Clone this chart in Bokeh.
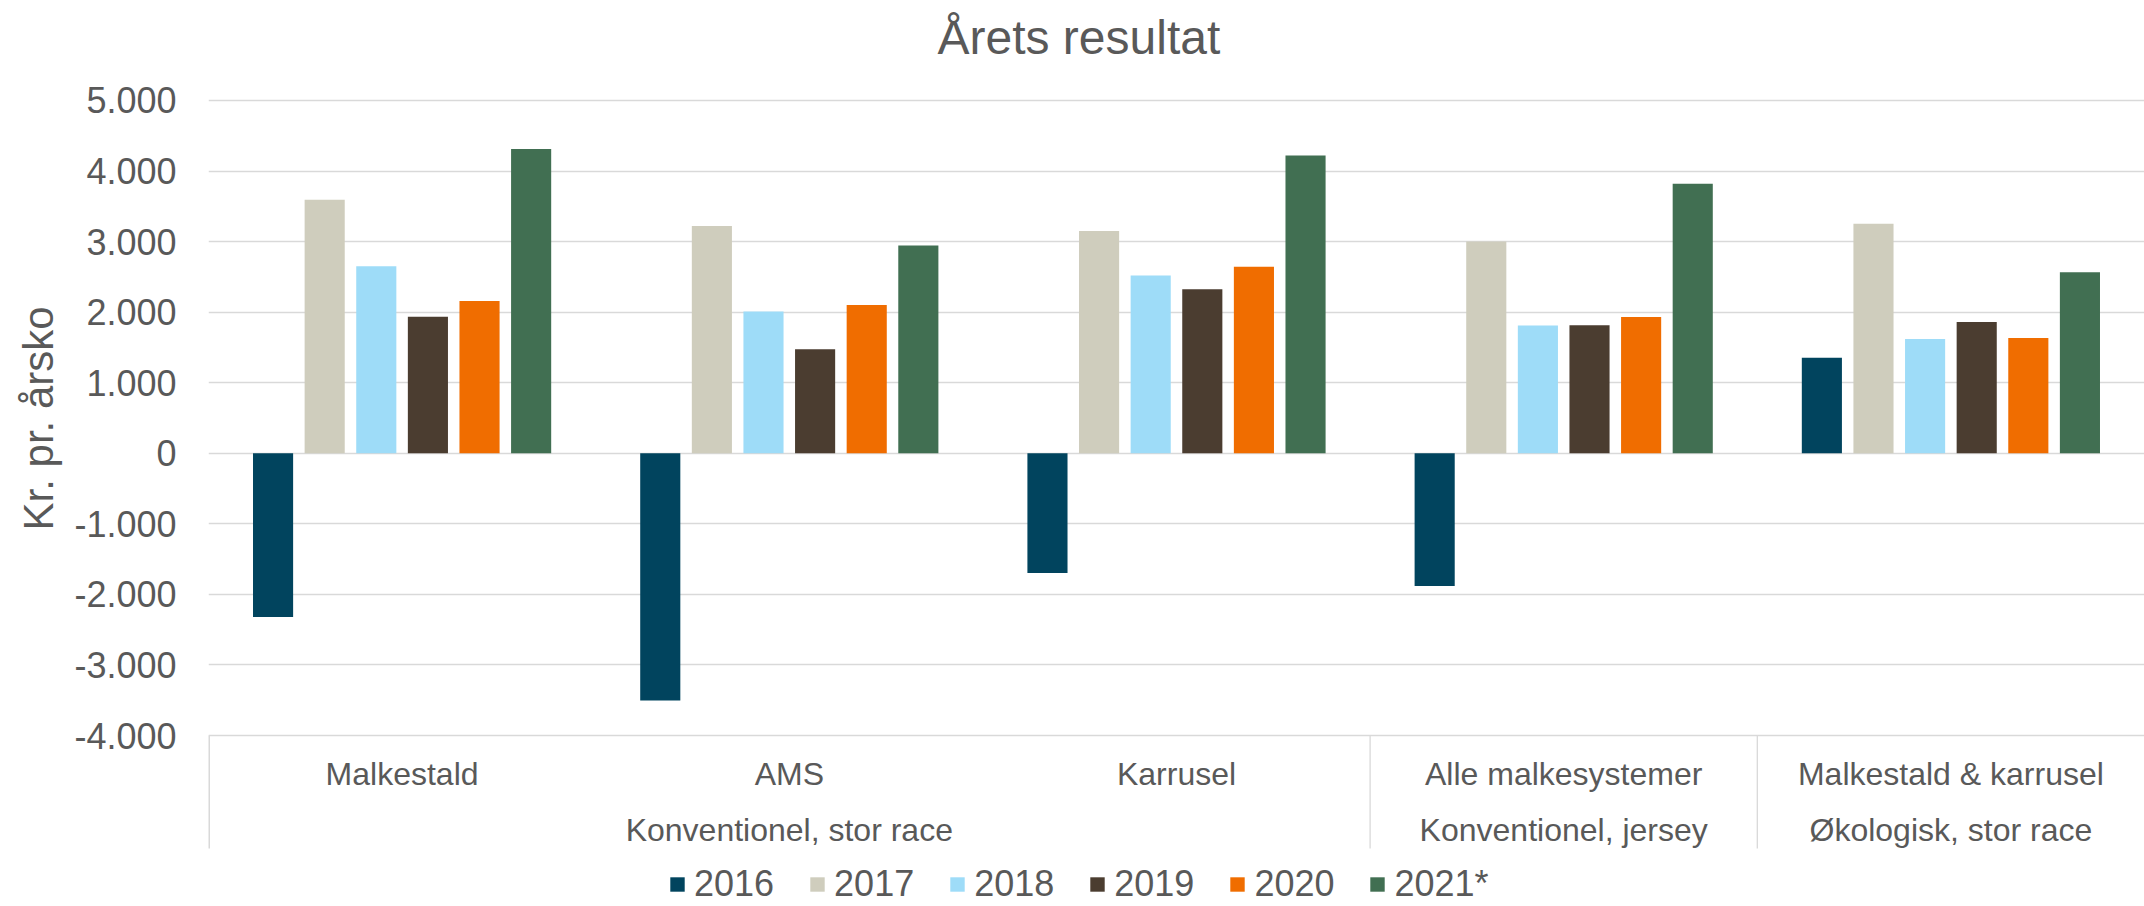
from bokeh.plotting import figure
from bokeh.models import (ColumnDataSource, Range1d, FactorRange, FixedTicker, Legend,
                          LegendItem, Title)
from bokeh.transform import dodge
from bokeh.core.properties import value
from bokeh.embed import file_html
from bokeh.resources import INLINE

# ---------------- data ----------------
title_text = "Årets resultat"
y_label = "Kr. pr. årsko"
sub_categories = ["Malkestald", "AMS", "Karrusel", "Alle malkesystemer", "Malkestald & karrusel"]
groups = ["Konventionel, stor race", "Konventionel, stor race", "Konventionel, stor race",
          "Konventionel, jersey", "Økologisk, stor race"]
years = ["2016", "2017", "2018", "2019", "2020", "2021*"]
v2016 = [-2320, -3505, -1695, -1880, 1355]
v2017 = [3595, 3220, 3150, 3000, 3255]
v2018 = [2650, 2010, 2520, 1810, 1620]
v2019 = [1935, 1475, 2325, 1815, 1860]
v2020 = [2158, 2100, 2645, 1930, 1635]
v2021 = [4312, 2945, 4220, 3820, 2565]
series = [v2016, v2017, v2018, v2019, v2020, v2021]
colors = ["#01445E", "#CFCDBD", "#9EDCF8", "#4B3D30", "#F06D00", "#416F52"]
y_ticks = [-4000, -3000, -2000, -1000, 0, 1000, 2000, 3000, 4000, 5000]
y_tick_labels = ["-4.000", "-3.000", "-2.000", "-1.000", "0", "1.000", "2.000", "3.000", "4.000", "5.000"]

# ---------------- styling ----------------
FONT = "Liberation Sans"
TXT = "#595959"
GRID = "#D9D9D9"

factors = list(zip(groups, sub_categories))
x_range = FactorRange(*factors, group_padding=0, factor_padding=0, range_padding=0)

p = figure(width=2144, height=906, output_backend="svg", toolbar_location=None,
           x_range=x_range, y_range=Range1d(-6422.9, 5396.8), x_axis_location=None,
           min_border_left=208, min_border_right=0,
           min_border_top=72, min_border_bottom=0)
p.outline_line_color = None
p.background_fill_color = "white"
p.border_fill_color = "white"

# title
p.title.text = title_text
p.title.text_font = FONT
p.title.text_font_size = "48px"
p.title.text_font_style = "normal"
p.title.text_color = TXT
p.title.align = "left"
p.title.offset = 729
p.title.standoff = 17

# y axis
ticker = FixedTicker(ticks=y_ticks)
ay = p.yaxis[0]
ay.ticker = ticker
ay.major_label_overrides = {t: l for t, l in zip(y_ticks, y_tick_labels)}
ay.axis_line_color = None
ay.major_tick_line_color = None
ay.minor_tick_line_color = None
ay.major_tick_out = 0
ay.major_tick_in = 0
ay.major_label_standoff = 32
ay.major_label_text_font = FONT
ay.major_label_text_font_size = "36px"
ay.major_label_text_color = TXT

# y-axis title, centred on the value range
p.add_layout(Title(text=y_label, align="left", offset=376, standoff=20,
                   vertical_align="bottom", text_font=FONT, text_font_size="42px",
                   text_font_style="normal", text_color=TXT), "left")

p.ygrid.ticker = ticker
p.ygrid.grid_line_color = GRID
p.ygrid.grid_line_width = 1.3
p.xgrid.visible = False

# bars
data = {"x": factors}
for yr, vals in zip(years, series):
    data[yr] = vals
src = ColumnDataSource(data)

pitch = 0.1333
bar_w = 0.1036
n = len(years)
items = []
for i, (yr, col) in enumerate(zip(years, colors)):
    off = (i - (n - 1) / 2) * pitch
    r = p.vbar(x=dodge("x", off, range=p.x_range), top=yr, bottom=0, width=bar_w,
               source=src, fill_color=col, line_color=None)
    items.append(LegendItem(label=yr, renderers=[r]))

# two-level category labels under the value range
axis_floor = min(y_ticks)
sub_src = ColumnDataSource(dict(x=factors, y=[-4552] * len(factors), t=sub_categories))
p.text(x="x", y="y", text="t", source=sub_src, text_align="center",
       text_baseline="alphabetic", text_font=value(FONT), text_font_size="32px",
       text_color=TXT)

top_groups = list(dict.fromkeys(groups))
grp_src = ColumnDataSource(dict(x=top_groups, y=[-5332] * len(top_groups), t=top_groups))
p.text(x="x", y="y", text="t", source=grp_src, text_align="center",
       text_baseline="alphabetic", text_font=value(FONT), text_font_size="32px",
       text_color=TXT)

# separators: left edge and between top-level groups
sep_x = [0]
for i in range(1, len(groups)):
    if groups[i] != groups[i - 1]:
        sep_x.append(i)
p.segment(x0=sep_x, x1=sep_x, y0=[axis_floor] * len(sep_x), y1=[-5601] * len(sep_x),
          line_color=GRID, line_width=[3] + [1.3] * (len(sep_x) - 1))

# legend
legend = Legend(items=items, orientation="horizontal", location=(460, 1),
                glyph_width=18, glyph_height=18, label_standoff=8, spacing=34,
                padding=0, margin=0, border_line_color=None,
                background_fill_alpha=0, label_text_font=FONT,
                label_text_font_size="36px", label_text_color=TXT)
p.add_layout(legend)

open("out.html", "w").write(file_html(p, INLINE))
